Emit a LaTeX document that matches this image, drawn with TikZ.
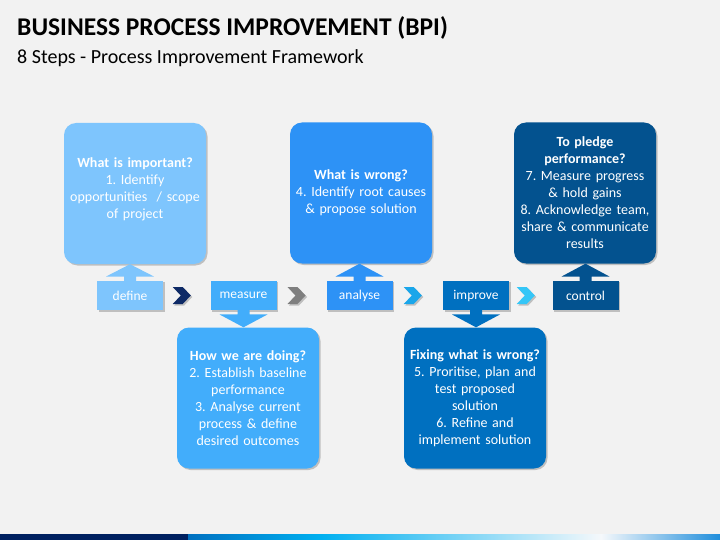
\documentclass[tikz,border=0pt]{standalone}
\usepackage{fontspec}
\setmainfont{Carlito}
\usetikzlibrary{calc,shadows,positioning}
\definecolor{bg}{HTML}{F2F2F2}
\definecolor{cdef}{HTML}{7EC5FD}
\definecolor{cmea}{HTML}{42ADFB}
\definecolor{cana}{HTML}{2D92F6}
\definecolor{cimp}{HTML}{0070C0}
\definecolor{ccon}{HTML}{03528F}
\definecolor{chv1}{HTML}{0E2A66}
\definecolor{chv2}{HTML}{7F7F7F}
\definecolor{chv3}{HTML}{1AA6EA}
\definecolor{chv4}{HTML}{35C6F7}
\definecolor{navy}{HTML}{002060}
\definecolor{g1}{HTML}{0070C0}
\definecolor{g2}{HTML}{00B0F0}
\definecolor{g3}{HTML}{F5F8FB}
\definecolor{g4}{HTML}{1F8EDC}
\frenchspacing

\begin{document}
\begin{tikzpicture}[x=1pt,y=-1pt]
\tikzstyle{shd}=[drop shadow={shadow xshift=1.5pt, shadow yshift=-1.5pt, opacity=.3, fill=black!70}]
\tikzstyle{box}=[shd, rounded corners=12pt, minimum width=142pt, minimum height=141pt, text width=134pt, align=center, text=white, inner sep=0pt, font=\fontsize{14}{17}\selectfont]
\tikzstyle{stage}=[shd, minimum width=66pt, minimum height=29.5pt, inner sep=0pt, text=white, font=\fontsize{13.5}{16}\selectfont]
\fill[bg] (0,0) rectangle (720,540);
\useasboundingbox (0,0) rectangle (720,540);
% title
\node[anchor=base west, inner sep=0pt, font=\fontsize{25.5}{30}\selectfont\bfseries] (title) at (17,36) {BUSINESS PROCESS IMPROVEMENT (BPI)};
\node[anchor=base west, inner sep=0pt, font=\fontsize{20}{24}\selectfont] (sub) at (17,64) {8 Steps - Process Improvement Framework};
% boxes
\node[box, fill=cdef] (bdef) at (135,193.5) {\textbf{What is important?}\\1. Identify\\opportunities~ / scope\\of project\\[-7pt]\mbox{}};
\node[box, fill=cana] (bana) at (361,193) {\textbf{What is wrong?}\\4. Identify root causes\\\& propose solution};
\node[box, fill=ccon] (bcon) at (585,193) {\textbf{To pledge}\\\textbf{performance?}\\7. Measure progress\\\& hold gains\\8. Acknowledge team,\\share \& communicate\\results};
\node[box, fill=cmea] (bmea) at (248,398) {\textbf{How we are doing?}\\2. Establish baseline\\performance\\3. Analyse current\\process \& define\\desired outcomes};
\node[box, fill=cimp] (bimp) at (475,398) {\textbf{Fixing what is wrong?}\\5. Proritise, plan and\\test proposed\\solution\\6. Refine and\\implement solution};
% steps
\foreach \n/\x/\t in {def/130/define, mea/243.5/measure, ana/359.5/analyse, imp/476/improve, con/585.5/control}
    \node[stage, fill=c\n] (l\n) at (\x,295.5) {\t};
\foreach \a/\b/\c in {def/mea/chv1, mea/ana/chv2, ana/imp/chv3, imp/con/chv4}
    \fill[\c, shd] ($(l\a.east)!.5!(l\b.west)$) ++(-14,-8.5) -- ++(10,0) -- ++(8,8.5) -- ++(-8,8.5) -- ++(-10,0) -- ++(8,-8.5) -- cycle;
% block arrows to the boxes
\foreach \n/\a/\ba/\s in {def/north/south/-1, mea/south/north/1, ana/north/south/-1, imp/south/north/1, con/north/south/-1}
    \fill[c\n] ($(l\n.\a)+(-6,\s*-1)$) -- ++(0,5*\s) -- ++(-18,0) -- (l\n.\a |- b\n.\ba)
        -- ($(l\n.\a)+(24,4*\s)$) -- ++(-18,0) -- ++(0,-5*\s) -- cycle;
% bottom bar
\fill[navy] (0,534) rectangle (188,540);
\shade[left color=g1, right color=g2] (188,534) rectangle (321,540);
\shade[left color=g2, right color=g3] (321,534) rectangle (601,540);
\shade[left color=g3, right color=g4] (601,534) rectangle (720,540);
\end{tikzpicture}
\end{document}
